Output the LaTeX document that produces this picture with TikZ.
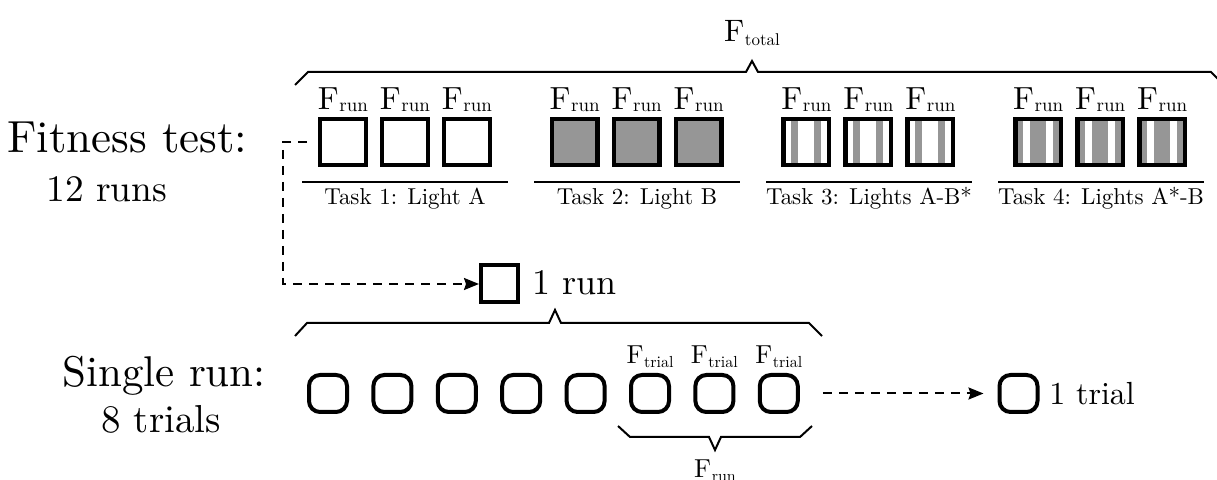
\documentclass[tikz,border=0pt]{standalone}
\usepackage{fontspec}
\setmainfont{lmroman10-regular.otf}
\usetikzlibrary{arrows.meta}
\definecolor{mygray}{RGB}{150,150,150}
\newcommand{\FL}[4]{{\fontsize{#1}{#1}\selectfont F}\kern0.3pt\raisebox{#4}{\fontsize{#3}{#3}\selectfont #2}}
\tikzset{
  runbox/.style={draw=black, line width=2.2pt, minimum size=22.8pt, inner sep=0pt},
  runW/.style={runbox, fill=white},
  runG/.style={runbox, fill=mygray},
  runS/.style={runbox, fill=white, path picture={
    \fill[mygray] ([xshift=-7.5pt,yshift=-12pt]path picture bounding box.center) rectangle ([xshift=-4pt,yshift=12pt]path picture bounding box.center);
    \fill[mygray] ([xshift=4pt,yshift=-12pt]path picture bounding box.center) rectangle ([xshift=7.5pt,yshift=12pt]path picture bounding box.center);}},
  runI/.style={runbox, fill=mygray, path picture={
    \fill[white] ([xshift=-7.5pt,yshift=-12pt]path picture bounding box.center) rectangle ([xshift=-4pt,yshift=12pt]path picture bounding box.center);
    \fill[white] ([xshift=4pt,yshift=-12pt]path picture bounding box.center) rectangle ([xshift=7.5pt,yshift=12pt]path picture bounding box.center);}},
  trialbox/.style={draw=black, line width=2pt, rounded corners=5.5pt, minimum width=19pt, minimum height=18.5pt, inner sep=0pt},
  onerunbox/.style={draw=black, line width=2pt, minimum size=18.5pt, inner sep=0pt},
  lbl/.style={inner sep=0pt, anchor=base},
  tasklbl/.style={inner sep=0pt, anchor=base, font=\fontsize{11.5}{13}\selectfont},
  txt/.style={inner sep=0pt, anchor=base west},
  brace/.style={line width=1pt, line join=miter},
  uline/.style={line width=0.8pt},
  dashline/.style={line width=1pt, dash pattern=on 4.5pt off 3.5pt},
}
\begin{document}
\begin{tikzpicture}[x=0.5pt,y=-0.5pt]
\clip (0,0) rectangle (1217,480);
\fill[white] (0,0) rectangle (1217,480);

% left labels
\node[txt, font=\fontsize{22.5}{26}\selectfont] (fit) at (7,153) {Fitness test:};
\node[txt, font=\fontsize{18.7}{22}\selectfont] (twelve) at (46,202) {12 runs};
\node[txt, font=\fontsize{21.5}{25}\selectfont] (single) at (62,387) {Single run:};
\node[txt, font=\fontsize{19.5}{22}\selectfont] (eight) at (101,433) {8 trials};

% top brace and F_total
\draw[brace] (295,85) -- (308,72) -- (746,72) -- (752,61) -- (758,72) -- (1211,72) -- (1224,85);
\node[lbl] (ftot) at (752,42) {\FL{15.5}{total}{8.5}{-2pt}};

% task boxes
\foreach \k/\st in {0/runW,1/runG,2/runS,3/runI} {
  \foreach \j in {0,1,2} {
    \node[\st] (b\k\j) at ({343+231.7*\k+62*\j},142) {};
    \node[lbl] (f\k\j) at ({343+231.7*\k+62*\j},110) {\FL{16}{run}{9.5}{-1pt}};
  }
  \draw[uline] ({302+232*\k},182) -- ({508+232*\k},182);
}
\node[tasklbl] (t1) at (405,205) {Task 1: Light A};
\node[tasklbl] (t2) at (637,205) {Task 2: Light B};
\node[tasklbl] (t3) at (869,205) {Task 3: Lights A-B*};
\node[tasklbl] (t4) at (1101,205) {Task 4: Lights A*-B};

% one run
\node[onerunbox] (onerun) at (499.5,284) {};
\node[txt, font=\fontsize{18}{21}\selectfont] (onerunlbl) at (532,295) {1 run};
\coordinate (c1) at (283,142);
\draw[dashline, -{Stealth[length=7.5pt,width=6pt,inset=1pt]}, shorten <=5.5pt] (b00.west) -- (c1) |- (onerun.west);

% brace over trials
\draw[brace] (295,336) -- (307,323) -- (549,323) -- (555,310) -- (561,323) -- (809,323) -- (822,336);

% trials
\foreach \i in {1,...,8} {
  \node[trialbox] (tr\i) at ({328+64.4*(\i-1)},393.5) {};
}
\foreach \i in {6,7,8} {
  \node[lbl] (ft\i) at ({328+64.4*(\i-1)},364) {\FL{13}{trial}{8}{-2pt}};
}

% brace under last three trials
\draw[brace] (618,426) -- (630,437) -- (709,437) -- (715,450) -- (721,437) -- (800,437) -- (812,426);
\node[lbl] (frunb) at (715,478) {\FL{13}{run}{8}{-2pt}};

% one trial
\node[trialbox] (onetrial) at (1018.5,393.5) {};
\node[txt, font=\fontsize{16}{19}\selectfont] (onetriallbl) at (1049,405) {1 trial};
\draw[dashline, -{Stealth[length=7.5pt,width=6pt,inset=1pt]}, shorten <=11.5pt, shorten >=7pt] (tr8.east) -- (onetrial.west);
\end{tikzpicture}
\end{document}
